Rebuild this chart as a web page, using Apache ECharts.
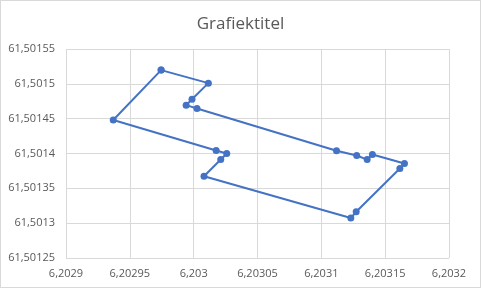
<!DOCTYPE html>
<html>
<head>
<meta charset="utf-8">
<script src="https://cdn.jsdelivr.net/npm/echarts@6/dist/echarts.min.js"></script>
<style>
html,body{margin:0;padding:0;background:#fff;}
#c{width:479px;height:286px;border:1px solid #d9d9d9;}
</style>
</head>
<body>
<div id="c"></div>
<script>
var title = "Grafiektitel";
var xValues = [6.2029745, 6.2030115, 6.2029987, 6.2029941, 6.2030026, 6.2031119, 6.2031277, 6.2031359, 6.20314, 6.2031651, 6.2031615, 6.2031273, 6.2031231, 6.2030081, 6.2030212, 6.2030259, 6.2030176, 6.202937, 6.2029745];
var yValues = [61.5015197, 61.501501, 61.5014779, 61.5014694, 61.5014646, 61.501404, 61.5013971, 61.5013913, 61.5013986, 61.5013856, 61.5013784, 61.5013163, 61.5013074, 61.5013673, 61.5013913, 61.50140, 61.5014043, 61.501448, 61.5015197];
var xTickLabels = ["6,2029", "6,20295", "6,203", "6,20305", "6,2031", "6,20315", "6,2032"];
var yTickLabels = ["61,50125", "61,5013", "61,50135", "61,5014", "61,50145", "61,5015", "61,50155"];

var points = xValues.map(function (x, i) { return [x, yValues[i]]; });
var xMin = 6.2029, xStep = 0.00005, yMin = 61.50125, yStep = 0.00005;
function idx(v, min, step) { return Math.round((v - min) / step); }

var chart = echarts.init(document.getElementById('c'), null, {renderer: 'canvas'});
chart.setOption({
  animation: false,
  backgroundColor: '#ffffff',
  title: {
    text: title, left: 'center', top: 10,
    textStyle: {color: '#595959', fontSize: 17, fontWeight: 'normal', fontFamily: 'Open Sans'}
  },
  grid: {left: 65, right: 31, top: 48, bottom: 29, containLabel: false},
  xAxis: {
    type: 'value', min: xMin, max: 6.2032, interval: xStep,
    axisLine: {show: false}, axisTick: {show: false},
    splitLine: {show: true, lineStyle: {color: '#d9d9d9', width: 1}},
    axisLabel: {
      color: '#595959', fontSize: 11, fontFamily: 'Open Sans', margin: 10,
      formatter: function (v) { return xTickLabels[idx(v, xMin, xStep)] || ''; }
    }
  },
  yAxis: {
    type: 'value', min: yMin, max: 61.50155, interval: yStep,
    axisLine: {show: false}, axisTick: {show: false},
    splitLine: {show: true, lineStyle: {color: '#d9d9d9', width: 1}},
    axisLabel: {
      color: '#595959', fontSize: 11, fontFamily: 'Open Sans', margin: 11,
      formatter: function (v) { return yTickLabels[idx(v, yMin, yStep)] || ''; }
    }
  },
  series: [{
    type: 'line',
    data: points,
    symbol: 'circle', symbolSize: 7,
    itemStyle: {color: '#4472C4'},
    lineStyle: {color: '#4472C4', width: 2}
  }]
});
</script>
</body>
</html>
